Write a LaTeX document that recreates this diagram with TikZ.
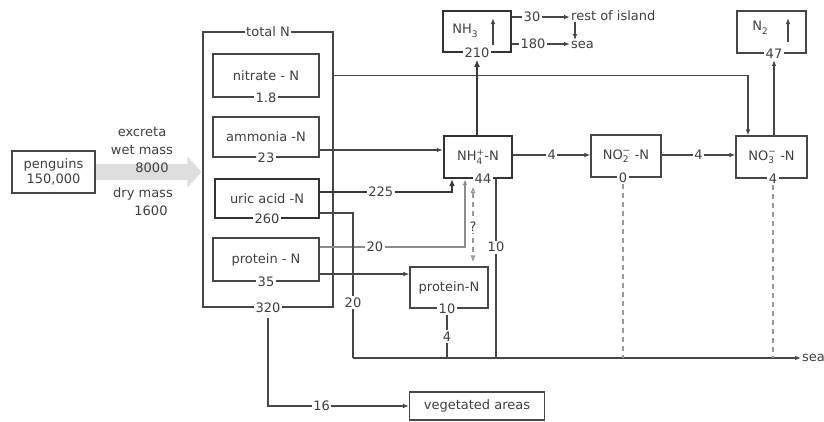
\documentclass[tikz,border=0pt]{standalone}
\usepackage{fontspec}
\setmainfont{DejaVu Sans}
\usetikzlibrary{arrows.meta,calc}
\newcommand{\ionss}[2]{\rlap{\raisebox{5.5pt}{\fontsize{9}{9}\selectfont #2}}\raisebox{-3.5pt}{\fontsize{9}{9}\selectfont #1}}
\newcommand{\chsub}[1]{\raisebox{-3.5pt}{\fontsize{9}{9}\selectfont #1}}
\begin{document}
\begin{tikzpicture}[x=1pt,y=-1pt,
 font=\fontsize{13}{16}\selectfont,
 ln/.style={draw=black!72, line width=1.1pt},
 arr/.style={ln, -{Latex[length=6pt,width=4.5pt]}},
 thk/.style={draw=black!78, line width=2.4pt},
 box/.style={draw=black!72, line width=1.1pt, text=black!75, inner sep=0pt},
 tbox/.style={box, draw=black!80, line width=2.4pt},
 lab/.style={fill=white, inner sep=1.5pt, text=black!75},
 txt/.style={inner sep=1pt, text=black!75},
 dsh/.style={draw=black!40, line width=1.1pt, dash pattern=on 5pt off 4pt},
]
\useasboundingbox (0,0) rectangle (824,421);

% boxes
\node[box, minimum width=83pt, minimum height=42pt, align=center, font=\fontsize{13}{15}\selectfont] (peng) at (53.5,172) {penguins\\150,000};
\node[box, minimum width=130pt, minimum height=275pt] (totalN) at (268,169.5) {};

% gray excreta arrow
\draw[line width=16pt, black!13, -{Triangle[length=14pt,width=30pt]}, shorten >=1pt] (peng.east) -- (totalN.west |- peng.east);

\node[txt] (excr) at (142,132) {excreta};
\node[txt] (wetm) at (142,150) {wet mass};
\node[txt] (w8000) at (152,168) {8000};
\node[txt] (drym) at (143,194) {dry mass};
\node[txt] (d1600) at (151,211) {1600};

\node[lab] (totlab) at (totalN.north) {total N};
\node[lab] (tot320) at (totalN.south) {320};

\node[box, minimum width=106pt, minimum height=43pt] (nitrate) at (266,75.5) {nitrate - N};
\node[lab] (nitv) at (nitrate.south) {1.8};
\node[box, minimum width=106pt, minimum height=40pt] (ammonia) at (266,137) {ammonia -N};
\node[lab] (ammv) at (ammonia.south) {23};
\node[tbox, minimum width=104pt, minimum height=39pt] (uric) at (267,198.5) {uric acid -N};
\node[lab] (uricv) at (uric.south) {260};
\node[box, minimum width=106pt, minimum height=43pt] (protein) at (266,259.5) {protein - N};
\node[lab] (protv) at (protein.south) {35};

\node[tbox, minimum width=68pt, minimum height=42pt] (nh4) at (478,157) {NH\ionss{4}{+}\,-N};
\node[lab] (nh4v) at ([xshift=5pt]nh4.south) {44};
\node[box, minimum width=70pt, minimum height=42pt] (no2) at (626,156) {NO\ionss{2}{−}\, -N};
\node[lab] (no2v) at ([xshift=-3pt]no2.south) {0};
\node[box, minimum width=71pt, minimum height=42pt] (no3) at (771.5,157) {NO\ionss{3}{−}\, -N};
\node[lab] (no3v) at ([xshift=1.5pt]no3.south) {4};

\node[tbox, minimum width=68pt, minimum height=41pt] (nh3) at (477,31.5) {};
\node[txt] (nh3t) at (465,31) {NH\chsub{3}};
\node[lab] (nh3v) at (nh3.south) {210};
\node[box, minimum width=69pt, minimum height=42pt] (n2) at (771.5,32) {};
\node[txt] (n2t) at (760,28) {N\chsub{2}};
\node[lab] (n2v) at ([xshift=2.5pt]n2.south) {47};

\node[box, minimum width=78pt, minimum height=41pt] (protN) at (449,287.5) {protein-N};
\node[lab] (protNv) at ([xshift=-2pt]protN.south) {10};
\node[box, minimum width=135pt, minimum height=28pt] (veg) at (477,406) {vegetated areas};

% arrows inside NH3 and N2
\draw[arr] ([xshift=16pt,yshift=-13.5pt]nh3.center) -- ([xshift=16pt,yshift=13.5pt]nh3.center);
\draw[arr] ([xshift=16.5pt,yshift=-10pt]n2.center) -- ([xshift=16.5pt,yshift=14pt]n2.center);

% NH3 outputs
\node[lab] (v30) at (532,17) {30};
\node[txt, anchor=west] (risl) at (570,16) {rest of island};
\node[lab] (v180) at (533,44) {180};
\node[txt, anchor=west] (sea1) at (570,45) {sea};
\draw[ln] (nh3.east |- v30) -- (v30);
\draw[arr] (v30.east) -- (v30.east -| risl.west);
\draw[ln] (nh3.east |- v180) -- (v180);
\draw[arr] (v180.east) -- (v180.east -| sea1.west);
\draw[arr] ([xshift=5pt]risl.south west) -- ([xshift=5pt]sea1.north west);

% nitrate line to NO3
\draw[arr] (totalN.east |- nitrate.center) -| ([xshift=-23.5pt]no3.north);
% NO3 -> N2
\draw[arr] (n2v.south |- no3.north) -- (n2v.south);
% NH4 -> NH3
\draw[thk, -{Latex[length=7pt,width=6pt]}] (nh3v.south |- nh4.north) -- (nh3v.south);

% ammonia -> NH4
\path ([yshift=-13pt]ammonia.east) coordinate (am1);
\draw[arr] (am1) -- (am1 -| nh4.west);
% uric -> NH4 (225)
\path ([yshift=6.5pt]uric.east) coordinate (u1);
\draw[thk, -{Latex[length=7pt,width=6pt]}] (u1) -| node[lab, pos=0.23]{225} ([xshift=-26pt]nh4.south);
% protein -> NH4 (20)
\path ([yshift=12.5pt]protein.east) coordinate (p1);
\draw[arr, draw=black!45] (p1) -| node[lab, pos=0.19]{20} ([xshift=-13pt]nh4.south);
% ? exchange
\path ([xshift=-5pt,yshift=-7pt]nh4.south) coordinate (q1);
\draw[dsh, {Latex[open,length=7pt,width=5pt]}-{Latex[open,length=7pt,width=5pt]}, shorten >=4pt] (q1) -- node[lab]{?} (q1 |- protN.north);

% sea line
\coordinate (sj) at (353,358);
\node[txt, anchor=west] (sea2) at (801,358) {sea};
\path ([yshift=-14.5pt]uric.east) coordinate (u2);
\draw[ln] (u2) -| node[lab, pos=0.81]{20} (sj);
\draw[arr] (sj) -- (sj -| sea2.west);
\path ([xshift=18pt]nh4.south) coordinate (t10);
\draw[ln] (t10) -- node[lab, pos=0.38]{10} (t10 |- sj);
\draw[ln] (protNv.south) -- node[lab]{4} (protNv.south |- sj);
\draw[dsh] (no2v.south) -- (no2v.south |- sj);
\draw[dsh] (no3v.south) -- (no3v.south |- sj);

% protein -> protein-N
\path ([yshift=-14.5pt]protein.east) coordinate (p2);
\draw[arr] (p2) -- (p2 -| protN.west);

% NH4 -> NO2 -> NO3
\path ([yshift=2pt]nh4.east) coordinate (n4e);
\draw[arr] (n4e) -- node[lab]{4} (n4e -| no2.west);
\path ([yshift=1pt]no2.east) coordinate (no2e);
\draw[arr] (no2e) -- node[lab]{4} (no2e -| no3.west);

% 320 -> vegetated areas
\draw[arr] ([yshift=-4pt]tot320.south) |- node[lab, pos=0.69]{16} (veg.west);
\end{tikzpicture}
\end{document}
